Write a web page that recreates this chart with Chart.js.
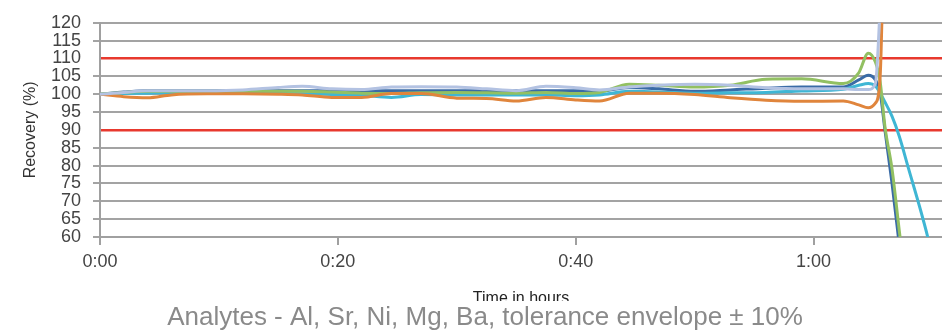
<!DOCTYPE html>
<html>
<head>
<meta charset="utf-8">
<script src="https://cdn.jsdelivr.net/npm/chart.js@4/dist/chart.umd.min.js"></script>
<style>
  html, body { margin: 0; padding: 0; background: #fff; }
  #wrap { position: relative; width: 942px; height: 333px; }
</style>
</head>
<body>
<div id="wrap"><canvas id="recovery-chart" width="942" height="333"></canvas></div>
<script>
// time in minutes
const times = [0, 2, 4, 6, 9, 12, 15, 17, 19.5, 22, 24.5, 27, 30, 32.5, 35, 37.5, 40, 42, 44.5, 47, 50, 53, 56, 59, 62.5, 63.8, 64.6, 65.2, 65.6, 66, 66.6, 67.2, 68, 69, 69.6, 71];

const alValues = [100, 100.5, 101, 101, 101, 101.2, 101.9, 102.2, 101.5, 101.3, 102, 102.1, 102, 101.5, 101, 102.2, 101.8, 101.2, 102, 102.5, 102.8, 102.5, 101.8, 101.5, 101.5, 101.3, 101.3, 103, 125, 160, null, null, null, null, null, null];
const srValues = [100, 99.3, 99, 99.8, 100.1, 100.1, 100, 99.8, 99.1, 99.1, 100.2, 100.2, 98.9, 98.8, 98.1, 99.1, 98.4, 98.1, 100.3, 100.3, 99.9, 99, 98.3, 98, 98.1, 97, 96.2, 97.5, 105, 160, null, null, null, null, null, null];
const niValues = [100, 100.5, 100.8, 100.8, 100.8, 100.8, 100.8, 100.8, 100.6, 100.3, 100.2, 100.4, 100.5, 100.4, 100.3, 100.5, 100.2, 100.5, 102.8, 102.5, 102, 102.5, 104.2, 104.3, 103, 106, 111.5, 109, 103.5, 91, 79, 62, 40, null, null, null];
const mgValues = [100, 100.2, 100.3, 100.4, 100.4, 100.3, 100.2, 100.1, 99.9, 99.7, 99.1, 99.9, 99.8, 99.8, 99.8, 99.8, 99.6, 99.8, 100.8, 100.6, 100.3, 100.4, 100.5, 100.9, 101.4, 102.5, 103, 102.3, 100.3, 97.8, 93.8, 88.3, 79, 67.5, 60, 40];
const baValues = [100, 100.6, 101, 101, 101, 101, 101, 101, 101, 101, 101, 101, 101, 101, 101, 101, 101, 100.8, 101.9, 101.5, 100.8, 101.2, 101.7, 102, 102, 104, 105.3, 104, 100.5, 90, 75, 58, 35, null, null, null];

const yTicks = [60, 65, 70, 75, 80, 85, 90, 95, 100, 105, 110, 115, 120];
const xTicks = [0, 20, 40, 60];
const limits = [90, 110];

const caption = "Analytes - Al, Sr, Ni, Mg, Ba, tolerance envelope \u00b1 10%";

function toPoints(values) {
  return times.map((t, i) => ({ x: t, y: values[i] }));
}

function fmtTime(m) {
  const h = Math.floor(m / 60);
  const mm = m % 60;
  return h + ":" + (mm < 10 ? "0" : "") + mm;
}

const series = [
  { label: "Al", data: alValues, color: "#b3c2e2" },
  { label: "Sr", data: srValues, color: "#e0853c" },
  { label: "Ni", data: niValues, color: "#92c062" },
  { label: "Mg", data: mgValues, color: "#3fb6d4" },
  { label: "Ba", data: baValues, color: "#3a6ba6" },
];

const font = "'Liberation Sans', Arial, sans-serif";

// caption sits under the chart and hides the lower part of the axis title
const captionPlugin = {
  id: "caption",
  afterDraw(chart) {
    const ctx = chart.ctx;
    ctx.save();
    ctx.fillStyle = "#fff";
    ctx.fillRect(0, 301, chart.width, chart.height - 301);
    ctx.fillStyle = "#8a8a8a";
    ctx.font = "26px " + font;
    ctx.textAlign = "center";
    ctx.textBaseline = "alphabetic";
    ctx.fillText(caption, 485, 325);
    ctx.restore();
  }
};

new Chart(document.getElementById("recovery-chart"), {
  type: "line",
  data: {
    datasets: series.map(s => ({
      label: s.label,
      data: toPoints(s.data),
      borderColor: s.color,
      backgroundColor: s.color,
      borderWidth: 3,
      pointRadius: 0,
      tension: 0.4,
      cubicInterpolationMode: "monotone",
      spanGaps: false,
    }))
  },
  options: {
    responsive: false,
    animation: false,
    layout: { padding: { top: 18, right: 0, bottom: 0, left: 0 } },
    plugins: {
      legend: { display: false },
      tooltip: { enabled: false },
    },
    scales: {
      x: {
        type: "linear",
        min: 0,
        max: 70.8,
        afterBuildTicks: (scale) => { scale.ticks = xTicks.map(v => ({ value: v })); },
        afterFit: (scale) => { scale.height = 96; },
        ticks: {
          autoSkip: false,
          color: "#444",
          font: { family: font, size: 18 },
          padding: 6,
          maxRotation: 0,
          callback: (v) => fmtTime(v),
        },
        grid: {
          drawOnChartArea: false,
          drawTicks: true,
          tickLength: 8,
          color: "#a0a0a0",
          lineWidth: 2,
        },
        border: { display: true, color: "#a0a0a0", width: 2 },
        title: {
          display: true,
          text: "Time in hours",
          color: "#222",
          font: { family: font, size: 16 },
          padding: { top: 0, bottom: 25 },
        },
      },
      y: {
        min: 60,
        max: 120,
        afterBuildTicks: (scale) => { scale.ticks = yTicks.map(v => ({ value: v })); },
        afterFit: (scale) => { scale.width = 100; },
        ticks: {
          autoSkip: false,
          color: "#444",
          font: { family: font, size: 18 },
          padding: 12,
        },
        grid: {
          tickLength: 7,
          color: (c) => limits.includes(c.tick.value) ? "#e8392e" : "#a3a3a3",
          tickColor: (c) => limits.includes(c.tick.value) ? "rgba(0,0,0,0)" : "#a3a3a3",
          lineWidth: (c) => limits.includes(c.tick.value) ? 2.6 : 2,
        },
        border: { display: true, color: "#a0a0a0", width: 2 },
        title: {
          display: true,
          text: "Recovery (%)",
          color: "#333",
          font: { family: font, size: 16 },
          padding: { top: 21, bottom: 0 },
        },
      },
    },
  },
  plugins: [captionPlugin],
});
</script>
</body>
</html>
